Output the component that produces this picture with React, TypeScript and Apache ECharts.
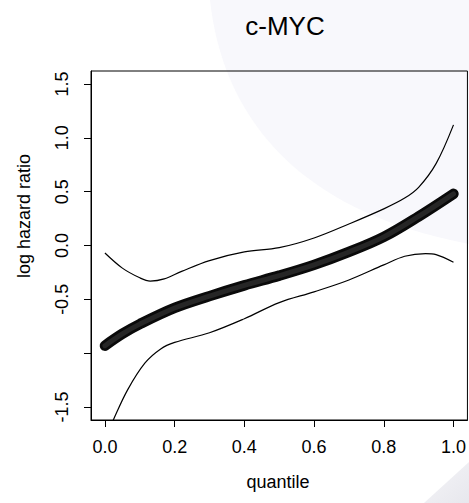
import React, { useEffect, useRef } from "react";
import * as echarts from "echarts";

// quantile positions and log hazard ratio estimates
const fitX = [0.0, 0.05, 0.1, 0.2, 0.3, 0.4, 0.5, 0.6, 0.7, 0.8, 0.9, 1.0];
const fitY = [-0.93, -0.82, -0.73, -0.58, -0.47, -0.37, -0.28, -0.18, -0.06, 0.08, 0.27, 0.48];

const upperX = [0.0, 0.05, 0.1, 0.13, 0.17, 0.22, 0.3, 0.4, 0.5, 0.6, 0.7, 0.8, 0.86, 0.9, 0.95, 1.0];
const upperY = [-0.07, -0.21, -0.3, -0.33, -0.31, -0.24, -0.14, -0.06, -0.02, 0.07, 0.2, 0.34, 0.44, 0.54, 0.76, 1.12];

const lowerX = [0.0, 0.024, 0.065, 0.115, 0.16, 0.2, 0.3, 0.4, 0.5, 0.6, 0.7, 0.8, 0.86, 0.92, 0.95, 1.0];
const lowerY = [-1.8, -1.62, -1.34, -1.09, -0.96, -0.9, -0.81, -0.68, -0.53, -0.43, -0.32, -0.18, -0.1, -0.075, -0.085, -0.155];

const xTicks = [0, 0.2, 0.4, 0.6, 0.8, 1.0];
const yTicks = [-1.5, -1.0, -0.5, 0.0, 0.5, 1.0, 1.5];
const yLabelTicks = [-1.5, -0.5, 0.0, 0.5, 1.0, 1.5];

const FONT = "'Liberation Sans', Arial, Helvetica, sans-serif";

echarts.graphic.registerShape(
  "wmArc",
  (echarts.graphic as any).extendPath("M210,0 C222,110 290,210 469,244 L469,0 Z", {})
);

export default function App() {
  const ref = useRef<HTMLDivElement>(null);
  useEffect(() => {
    if (!ref.current) return;
    const chart = echarts.init(ref.current, null, { renderer: "svg" });
    const zip = (xs: number[], ys: number[]) => xs.map((x, i) => [x, ys[i]]);
    chart.setOption({
      animation: false,
      backgroundColor: "#ffffff",
      title: {
        text: "c-MYC",
        left: 280,
        top: 8,
        textAlign: "center",
        textStyle: { fontSize: 26, fontWeight: "normal", color: "#000", fontFamily: FONT },
      },
      graphic: [
        {
          type: "wmArc",
          x: 0,
          y: 0,
          z: -10,
          silent: true,
          style: { fill: "#F8F8FC" },
        },
        {
          type: "polygon",
          z: -10,
          silent: true,
          shape: { points: [[424, 503], [469, 462], [469, 503]] },
          style: {
            fill: new echarts.graphic.LinearGradient(0, 0, 1, 1, [
              { offset: 0, color: "#F5F5F8" },
              { offset: 1, color: "#E7E7ED" },
            ]),
          },
        },
        {
          type: "text",
          x: 24,
          y: 216,
          rotation: Math.PI / 2,
          style: {
            text: "log hazard ratio",
            fontSize: 18,
            fontFamily: FONT,
            fill: "#000",
            align: "center",
            verticalAlign: "middle",
          },
        },
        {
          type: "text",
          x: 278,
          y: 482,
          style: {
            text: "quantile",
            fontSize: 18,
            fontFamily: FONT,
            fill: "#000",
            align: "center",
            verticalAlign: "middle",
          },
        },
      ],
      grid: {
        left: 91,
        top: 71,
        width: 380,
        height: 349,
        show: true,
        borderColor: "#000",
        borderWidth: 1,
        backgroundColor: "transparent",
      },
      xAxis: {
        type: "value",
        position: "bottom",
        min: -0.04,
        max: 1.04,
        axisLine: { show: true, onZero: false, lineStyle: { color: "#000", width: 1 } },
        splitLine: { show: false },
        axisTick: {
          show: true,
          inside: false,
          length: 7,
          customValues: xTicks,
          lineStyle: { color: "#000", width: 1 },
        },
        axisLabel: {
          customValues: xTicks,
          margin: 18,
          fontSize: 18,
          fontFamily: FONT,
          color: "#000",
          formatter: (v: number) => v.toFixed(1),
        },
      },
      yAxis: {
        type: "value",
        position: "left",
        min: -1.62,
        max: 1.62,
        axisLine: { show: true, onZero: false, lineStyle: { color: "#000", width: 1 } },
        splitLine: { show: false },
        axisTick: {
          show: true,
          inside: false,
          length: 7,
          customValues: yTicks,
          lineStyle: { color: "#000", width: 1 },
        },
        axisLabel: {
          customValues: yLabelTicks,
          rotate: 90,
          margin: 20,
          fontSize: 18,
          fontFamily: FONT,
          color: "#000",
          formatter: (v: number) => v.toFixed(1),
        },
      },
      series: [
        {
          type: "line",
          data: zip(upperX, upperY),
          smooth: 0.35,
          showSymbol: false,
          lineStyle: { color: "#000", width: 1.2 },
        },
        {
          type: "line",
          data: zip(lowerX, lowerY),
          smooth: 0.35,
          showSymbol: false,
          lineStyle: { color: "#000", width: 1.2 },
        },
        {
          type: "line",
          data: zip(fitX, fitY),
          smooth: 0.35,
          showSymbol: false,
          lineStyle: { color: "#0a0a0a", width: 10.5, cap: "round", join: "round" },
        },
        {
          type: "line",
          data: zip(fitX, fitY),
          smooth: 0.35,
          showSymbol: false,
          lineStyle: { color: "#262626", width: 5, cap: "round", join: "round" },
        },
      ],
    });
    return () => chart.dispose();
  }, []);
  return (
    <div
      ref={ref}
      style={{ position: "fixed", left: 0, top: 0, width: 469, height: 503 }}
    />
  );
}
